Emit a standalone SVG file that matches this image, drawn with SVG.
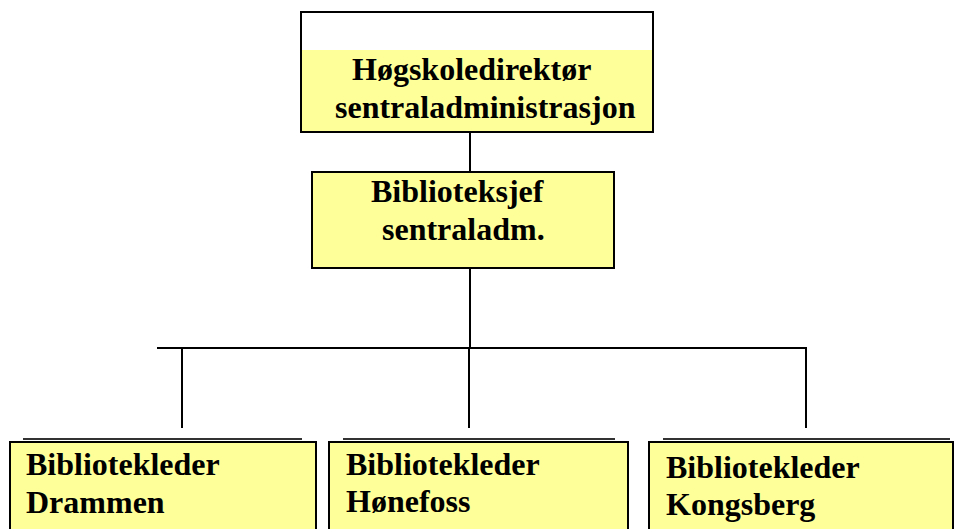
<svg xmlns="http://www.w3.org/2000/svg" width="954" height="529" viewBox="0 0 954 529">
<style>
.box{fill:#FFFF99;stroke:#000;stroke-width:2}
.frame{fill:none;stroke:#000;stroke-width:2}
.t{font-family:"Liberation Serif","Times New Roman",serif;font-weight:bold;font-size:32px;fill:#000}
.c{stroke:#000;stroke-width:2;fill:none}
.sh{stroke:#333;stroke-width:2}
</style>
<rect width="954" height="529" fill="#fff"/>
<g id="connectors">
<line class="c" x1="470" y1="132" x2="470" y2="172"/>
<line class="c" x1="470" y1="268" x2="470" y2="348"/>
<polyline class="c" points="157,348 806,348 806,428"/>
<line class="c" x1="182" y1="348" x2="182" y2="428"/>
<line class="c" x1="469" y1="348" x2="469" y2="428"/>
</g>
<g id="node-hogskoledirektor">
<rect x="301" y="12" width="352" height="120" fill="#fff"/>
<rect x="302" y="50" width="350" height="81" fill="#FFFF99"/>
<rect class="frame" x="301" y="12" width="352" height="120"/>
<text class="t" x="352" y="80">Høgskoledirektør</text>
<text class="t" x="335" y="118">sentraladministrasjon</text>
</g>
<g id="node-biblioteksjef">
<rect class="box" x="312" y="172" width="302" height="96"/>
<text class="t" x="371" y="202">Biblioteksjef</text>
<text class="t" x="382" y="240">sentraladm.</text>
</g>
<g id="node-drammen">
<line class="sh" x1="23" y1="439" x2="302" y2="439"/>
<rect class="box" x="10" y="442" width="306" height="100"/>
<text class="t" x="26" y="475">Bibliotekleder</text>
<text class="t" x="26" y="513">Drammen</text>
</g>
<g id="node-honefoss">
<line class="sh" x1="343" y1="439" x2="615" y2="439"/>
<rect class="box" x="329" y="442" width="299" height="100"/>
<text class="t" x="346" y="475">Bibliotekleder</text>
<text class="t" x="346" y="512">Hønefoss</text>
</g>
<g id="node-kongsberg">
<line class="sh" x1="663" y1="439" x2="950" y2="439"/>
<rect class="box" x="649" y="442" width="304" height="100"/>
<text class="t" x="666" y="478">Bibliotekleder</text>
<text class="t" x="666" y="515">Kongsberg</text>
</g>
</svg>
